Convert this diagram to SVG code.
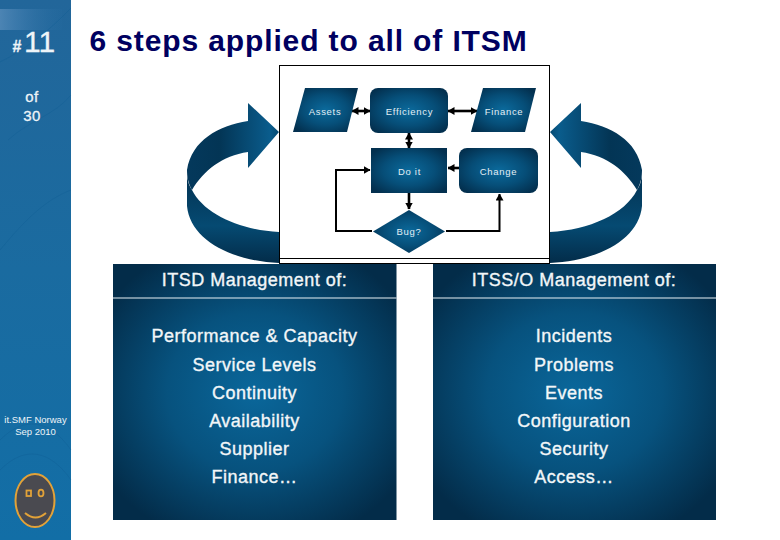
<svg xmlns="http://www.w3.org/2000/svg" width="780" height="540" viewBox="0 0 780 540">
<style>
text{font-family:"Liberation Sans",Arial,sans-serif;text-anchor:middle}
.n{fill:url(#node)}
.l{fill:#e4eef4;font-size:9.5px;letter-spacing:.7px}
.c{fill:none;stroke:#000;stroke-width:2}
.d{fill:none;stroke:#000;stroke-width:2.6}
.p{fill:url(#panel)}
.t{fill:#f2f6f8;stroke:#f2f6f8;stroke-width:.35px;font-size:18px;letter-spacing:.5px}
.s{fill:#eef4f8;stroke:#eef4f8;stroke-width:.3px}
</style>
<defs>
<radialGradient id="node" cx=".5" cy=".5" r=".62"><stop offset="0" stop-color="#0b6a9c"/><stop offset=".55" stop-color="#064e78"/><stop offset="1" stop-color="#03304f"/></radialGradient>
<radialGradient id="panel" cx=".5" cy=".5" r=".62"><stop offset="0" stop-color="#0a679b"/><stop offset=".5" stop-color="#07527e"/><stop offset="1" stop-color="#032c49"/></radialGradient>
<linearGradient id="side" x1="0" y1="0" x2="0" y2="1"><stop offset="0" stop-color="#22669a"/><stop offset=".5" stop-color="#1a6ba0"/><stop offset="1" stop-color="#126ea6"/></linearGradient>
<linearGradient id="band" x1="0" y1="0" x2="1" y2="0"><stop offset="0" stop-color="#5a8ebc" stop-opacity=".75"/><stop offset="1" stop-color="#2a70a6" stop-opacity=".1"/></linearGradient>
<linearGradient id="top" x1="0" y1="0" x2="1" y2="0"><stop offset="0" stop-color="#04395c"/><stop offset=".35" stop-color="#033555"/><stop offset=".9" stop-color="#0a5c8c"/><stop offset="1" stop-color="#054a72"/></linearGradient>
<linearGradient id="low" x1="0" y1="0" x2="0" y2="1"><stop offset="0" stop-color="#03304f"/><stop offset=".6" stop-color="#054a72"/><stop offset="1" stop-color="#032c49"/></linearGradient>
<marker id="a" viewBox="0 0 7 8" refX="6.500" refY="4" markerUnits="userSpaceOnUse" markerWidth="7" markerHeight="8" orient="auto-start-reverse"><path d="M0 0L7 4L0 8Z"/></marker>
<path id="arrow" d="M248 103L279 132L248 168L248 152C222 156 204 170 192 190C188 183 187 176 187 170C192 140 218 126 248 121Z"/>
<path id="lower" d="M192 190C204 214 240 230 279 232L279 263C232 261 190 240 187 206L187 170C187 178 188 184 192 190Z"/>
</defs>

<g id="sidebar">
<rect x="0" y="0" width="71" height="540" fill="url(#side)"/>
<rect x="0" y="9" width="62" height="21" fill="url(#band)"/>
<path d="M0 62C25 50 50 30 71 8M8 140C30 120 55 115 71 95M0 250C25 220 45 200 71 190M0 440C25 415 50 420 71 450M0 470C25 445 50 450 71 480" fill="none" stroke="#0f5d92" stroke-width="1" opacity=".35"/>
<text x="17" y="52" class="s" font-size="16" font-weight="700">#</text>
<text x="39.500" y="52" class="s" font-size="30">11</text>
<text x="32" y="102" class="s" font-size="15" letter-spacing=".5">of</text>
<text x="32" y="121" class="s" font-size="15" letter-spacing=".5">30</text>
<text x="35.500" y="423" fill="#eef4f8" font-size="9.500">it.SMF Norway</text>
<text x="35.500" y="435" fill="#eef4f8" font-size="9.500">Sep 2010</text>
</g>
<g id="smiley">
<ellipse cx="35" cy="500.500" rx="19.500" ry="26.500" fill="#4a4a50" stroke="#e2a238" stroke-width="2"/>
<rect x="26.500" y="490.500" width="4.500" height="5.500" fill="#4a4a50" stroke="#e2a238" stroke-width="1.800"/>
<ellipse cx="41" cy="493" rx="2.500" ry="3.400" fill="#4a4a50" stroke="#e2a238" stroke-width="1.800"/>
<path d="M25 513C32 519 39 519 46 513" fill="none" stroke="#e2a238" stroke-width="2"/>
</g>
<g id="title"><text x="308.500" y="51" font-size="30" font-weight="700" fill="#000060" letter-spacing=".88">6 steps applied to all of ITSM</text></g>

<g id="loop-left"><use href="#lower" fill="url(#low)"/><use href="#arrow" fill="url(#top)"/></g>
<g id="loop-right" transform="matrix(-1 0 0 1 829 0)"><use href="#lower" fill="url(#low)"/><use href="#arrow" fill="url(#top)"/></g>

<g id="frame"><rect x="279.500" y="65.500" width="270" height="198" fill="#fff" stroke="#000" stroke-width="1"/><path d="M279.500 258.500H549.500" stroke="#000" fill="none"/></g>

<g id="connectors">
<path class="d" d="M352 111H370" marker-start="url(#a)" marker-end="url(#a)"/>
<path class="d" d="M448 111H477" marker-start="url(#a)" marker-end="url(#a)"/>
<path class="d" d="M409 133V148" marker-start="url(#a)" marker-end="url(#a)"/>
<path class="d" d="M459 168H448" marker-end="url(#a)"/>
<path class="d" d="M409 193V209" marker-end="url(#a)"/>
<path class="c" d="M372 231H336V170H370" marker-end="url(#a)"/>
<path class="c" d="M446 231H499.500V194" marker-end="url(#a)"/>
</g>

<g id="assets"><path class="n" d="M293 132L305 88H358L347 132Z"/><text class="l" x="325" y="115">Assets</text></g>
<g id="efficiency"><rect class="n" x="370" y="88" width="78" height="45" rx="8"/><text class="l" x="409.500" y="115">Efficiency</text></g>
<g id="finance"><path class="n" d="M471 132L483 88H536L525 132Z"/><text class="l" x="504" y="115">Finance</text></g>
<g id="doit"><rect class="n" x="371" y="148" width="76" height="45"/><text class="l" x="409.500" y="175">Do it</text></g>
<g id="change"><rect class="n" x="459" y="148" width="79" height="45" rx="8"/><text class="l" x="498.500" y="175">Change</text></g>
<g id="bug"><path class="n" d="M373 231.500L409 210L445 231.500L409 253Z"/><text class="l" x="409" y="235">Bug?</text></g>

<g id="panel-left">
<rect class="p" x="113" y="264" width="283.500" height="256"/>
<path d="M113 298H396.500" stroke="#e8f0f4" fill="none"/>
<text class="t" x="254.500" y="285.500">ITSD Management of:</text>
<text class="t" x="254.500" y="341.500">Performance &amp; Capacity</text>
<text class="t" x="254.500" y="370.500">Service Levels</text>
<text class="t" x="254.500" y="398.500">Continuity</text>
<text class="t" x="254.500" y="426.500">Availability</text>
<text class="t" x="254.500" y="454.500">Supplier</text>
<text class="t" x="254.500" y="482.500">Finance…</text>
</g>
<g id="panel-right">
<rect class="p" x="433" y="264" width="283" height="256"/>
<path d="M433 298H716" stroke="#e8f0f4" fill="none"/>
<text class="t" x="574" y="285.500">ITSS/O Management of:</text>
<text class="t" x="574" y="341.500">Incidents</text>
<text class="t" x="574" y="370.500">Problems</text>
<text class="t" x="574" y="398.500">Events</text>
<text class="t" x="574" y="426.500">Configuration</text>
<text class="t" x="574" y="454.500">Security</text>
<text class="t" x="574" y="482.500">Access…</text>
</g>
</svg>
